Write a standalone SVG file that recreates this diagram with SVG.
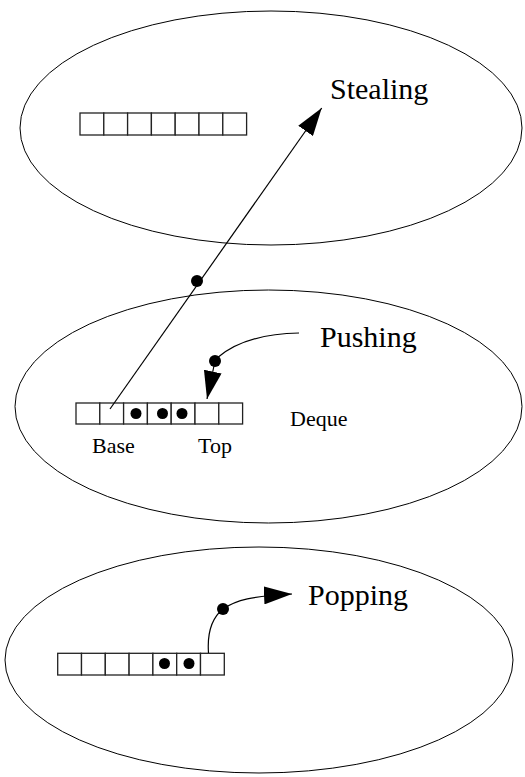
<svg xmlns="http://www.w3.org/2000/svg" width="525" height="777" viewBox="0 0 525 777">
<style>
.ell{fill:none;stroke:#000;stroke-width:1}
.box{fill:#fff;stroke:#222;stroke-width:1.3}
.dot{fill:#000}
.conn{fill:none;stroke:#000;stroke-width:1.2}
.big{font-family:"Liberation Serif","Times New Roman",serif;font-size:30px;fill:#000}
.small{font-family:"Liberation Serif","Times New Roman",serif;font-size:22px;fill:#000}
</style>
<defs>
<marker id="ah" markerUnits="userSpaceOnUse" markerWidth="28" markerHeight="18" refX="28" refY="9" orient="auto" viewBox="0 0 28 18">
<path d="M0,0 L28,9 L0,18 Z" fill="#000"/>
</marker>
</defs>
<g id="stealing">
<ellipse class="ell" cx="271" cy="128" rx="251" ry="117"/>
<g id="deque-top">
<rect class="box" x="80" y="113" width="23.8" height="22"/>
<rect class="box" x="103.8" y="113" width="23.8" height="22"/>
<rect class="box" x="127.6" y="113" width="23.8" height="22"/>
<rect class="box" x="151.4" y="113" width="23.8" height="22"/>
<rect class="box" x="175.2" y="113" width="23.8" height="22"/>
<rect class="box" x="199" y="113" width="23.8" height="22"/>
<rect class="box" x="222.8" y="113" width="23.8" height="22"/>
</g>
<text class="big" x="330" y="99">Stealing</text>
</g>
<g id="pushing">
<ellipse class="ell" cx="268.5" cy="406.5" rx="253.5" ry="116.5"/>
<g id="deque-mid">
<rect class="box" x="76" y="403" width="23.8" height="21"/>
<rect class="box" x="99.8" y="403" width="23.8" height="21"/>
<rect class="box" x="123.6" y="403" width="23.8" height="21"/>
<rect class="box" x="147.4" y="403" width="23.8" height="21"/>
<rect class="box" x="171.2" y="403" width="23.8" height="21"/>
<rect class="box" x="195" y="403" width="23.8" height="21"/>
<rect class="box" x="218.8" y="403" width="23.8" height="21"/>
<circle class="dot" cx="136" cy="413.5" r="5.5"/>
<circle class="dot" cx="162.5" cy="413.5" r="5.5"/>
<circle class="dot" cx="182" cy="413.5" r="5.5"/>
</g>
<text class="big" x="320" y="347">Pushing</text>
<text class="small" x="290" y="426">Deque</text>
<text class="small" x="92" y="453">Base</text>
<text class="small" x="198" y="453">Top</text>
</g>
<g id="popping">
<ellipse class="ell" cx="259" cy="660" rx="254" ry="113"/>
<g id="deque-bottom">
<rect class="box" x="57.7" y="653.3" width="23.8" height="21.7"/>
<rect class="box" x="81.5" y="653.3" width="23.8" height="21.7"/>
<rect class="box" x="105.3" y="653.3" width="23.8" height="21.7"/>
<rect class="box" x="129.1" y="653.3" width="23.8" height="21.7"/>
<rect class="box" x="152.9" y="653.3" width="23.8" height="21.7"/>
<rect class="box" x="176.7" y="653.3" width="23.8" height="21.7"/>
<rect class="box" x="200.5" y="653.3" width="23.8" height="21.7"/>
<circle class="dot" cx="164.5" cy="663.5" r="5.5"/>
<circle class="dot" cx="189" cy="663.5" r="5.5"/>
</g>
<text class="big" x="308" y="605">Popping</text>
</g>
<g id="connectors">
<line class="conn" x1="110" y1="409" x2="321.7" y2="108" marker-end="url(#ah)"/>
<circle class="dot" cx="197" cy="281" r="6"/>
<path class="conn" d="M299,333 Q245,334 217,358"/>
<circle class="dot" cx="215" cy="361" r="6"/>
<line class="conn" x1="215" y1="361" x2="207" y2="399" marker-end="url(#ah)"/>
<path class="conn" d="M208.5,653 C207,632 213,617 223,609 C236,600 252,596 292,594" marker-end="url(#ah)"/>
<circle class="dot" cx="223" cy="609" r="6"/>
</g>
</svg>
